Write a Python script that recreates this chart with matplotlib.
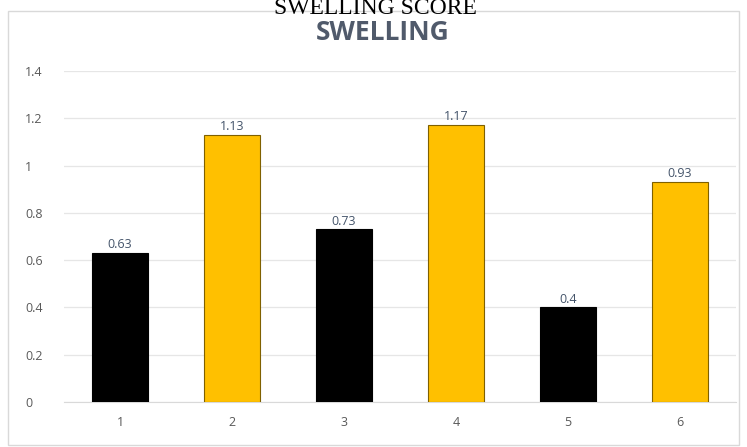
import matplotlib
matplotlib.use("Agg")
import matplotlib.pyplot as plt
from matplotlib.patches import Rectangle

categories = ["1", "2", "3", "4", "5", "6"]
values = [0.63, 1.13, 0.73, 1.17, 0.4, 0.93]
colors = ["#000000", "#FFC000", "#000000", "#FFC000", "#000000", "#FFC000"]
yticks = [0, 0.2, 0.4, 0.6, 0.8, 1, 1.2, 1.4]
ytick_labels = ["0", "0.2", "0.4", "0.6", "0.8", "1", "1.2", "1.4"]

W, H = 747, 447
fig = plt.figure(figsize=(W / 100, H / 100), dpi=100)
fig.patch.set_facecolor("white")

# chart border
fig.patches.append(Rectangle((8 / W, 2 / H), 731 / W, (H - 13) / H,
                             transform=fig.transFigure, fill=False,
                             edgecolor="#d9d9d9", linewidth=1))

ax = fig.add_axes([64 / W, (H - 402) / H, 672 / W, 331 / H])
x = list(range(len(categories)))
bars = ax.bar(x, values, width=0.5, color=colors, edgecolor="#7f6000", linewidth=0.8, zorder=3)
for b, c in zip(bars, colors):
    if c == "#000000":
        b.set_edgecolor("#000000")

for xi, v in zip(x, values):
    ax.text(xi, v + 0.008, f"{v:g}", ha="center", va="bottom", fontsize=9,
            color="#44546a", family="Open Sans")

ax.set_xlim(-0.5, len(categories) - 0.5)
ax.set_ylim(0, 1.4)
ax.set_yticks(yticks)
ax.set_yticklabels(ytick_labels, fontsize=9, color="#595959", family="Open Sans")
ax.set_xticks(x)
ax.set_xticklabels(categories, fontsize=9, color="#595959", family="Open Sans")
ax.tick_params(length=0)
ax.tick_params(axis="x", pad=10)
ax.tick_params(axis="y", pad=28)
for s in ["top", "right", "left"]:
    ax.spines[s].set_visible(False)
ax.spines["bottom"].set_color("#d9d9d9")
ax.grid(axis="y", color="#e6e6e6", linewidth=0.9, zorder=0)
ax.set_axisbelow(True)
for lab in ax.get_yticklabels():
    lab.set_ha("left")

fig.text(375 / W, 1 - 8 / H, "SWELLING SCORE", ha="center", va="center",
         fontsize=17, family="Liberation Serif", color="black")
fig.text(383 / W, 1 - 32 / H, "SWELLING", ha="center", va="center",
         fontsize=19, fontweight="bold", family="Open Sans", color="#505a6b")

fig.savefig("out.png", dpi=100)
